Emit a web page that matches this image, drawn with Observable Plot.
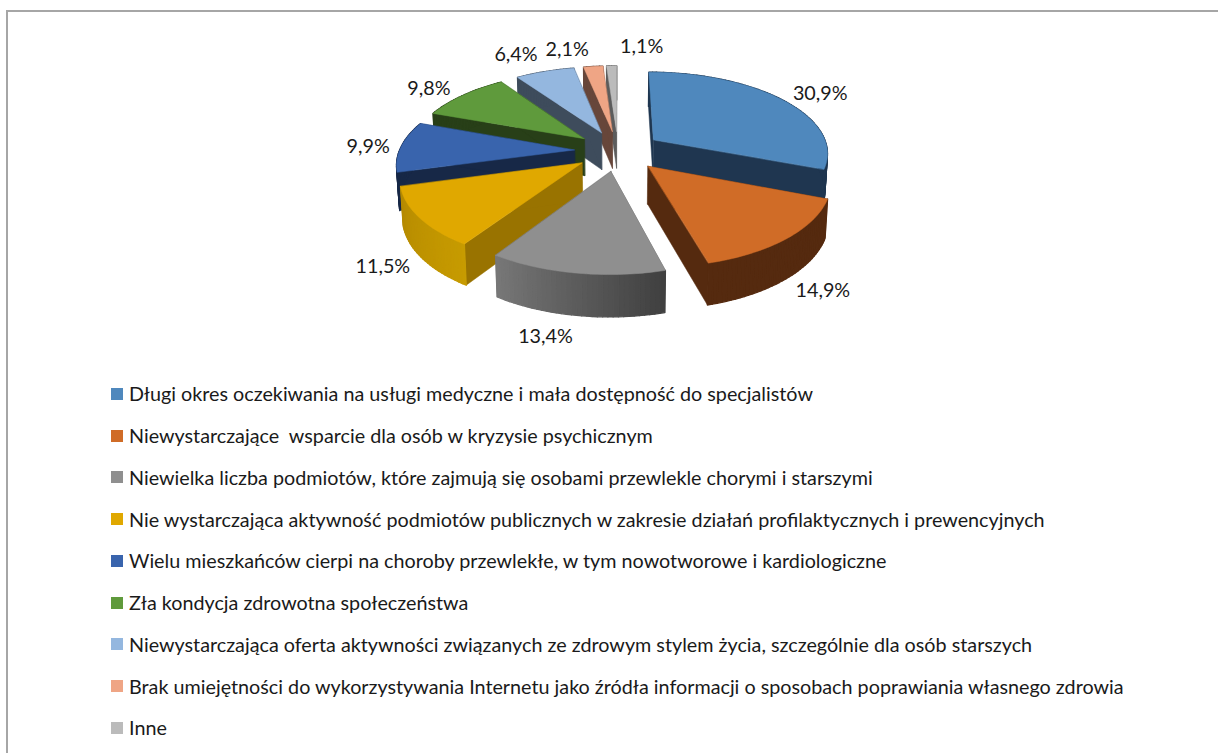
<!DOCTYPE html>
<html lang="pl"><head><meta charset="utf-8">
<script src="https://cdn.jsdelivr.net/npm/d3@7"></script>
<script src="https://cdn.jsdelivr.net/npm/@observablehq/plot@0.6"></script>
<style>
html,body{margin:0;padding:0;background:#fff;overflow:hidden;width:1218px;height:753px}
#frame{position:absolute;left:6px;top:10px;width:1400px;height:900px;border:solid #a6a6a6;border-width:2px 0 0 2px;box-sizing:border-box;pointer-events:none}
#chart{position:absolute;left:0;top:0;width:1218px}
#chart svg{display:block;background:transparent}
#legend{font-family:Lato,"Noto Sans",sans-serif;font-size:19.75px;color:#1a1a1a;letter-spacing:0}
.row{height:41.75px;display:flex;align-items:center;white-space:pre;padding-left:111px}
.sw{width:12px;height:12px;margin-right:6px;flex:none}
</style></head><body>
<div id="frame"></div>
<div id="chart"></div>
<script>
const categories = [
  "Długi okres oczekiwania na usługi medyczne i mała dostępność do specjalistów",
  "Niewystarczające  wsparcie dla osób w kryzysie psychicznym",
  "Niewielka liczba podmiotów, które zajmują się osobami przewlekle chorymi i starszymi",
  "Nie wystarczająca aktywność podmiotów publicznych w zakresie działań profilaktycznych i prewencyjnych",
  "Wielu mieszkańców cierpi na choroby przewlekłe, w tym nowotworowe i kardiologiczne",
  "Zła kondycja zdrowotna społeczeństwa",
  "Niewystarczająca oferta aktywności związanych ze zdrowym stylem życia, szczególnie dla osób starszych",
  "Brak umiejętności do wykorzystywania Internetu jako źródła informacji o sposobach poprawiania własnego zdrowia",
  "Inne"
];
const values = [30.9, 14.9, 13.4, 11.5, 9.9, 9.8, 6.4, 2.1, 1.1];
const topColors  = ["#4f88bd","#d06c27","#8f8f8f","#e0a800","#3964ad","#5f9a3c","#94b7df","#efa585","#bbbbbb"];
const sideColors = ["#1f3650","#552a0f","#5c5c5c","#997300","#172847","#283f18","#3e4c5c","#67463a","#5c5c5c"];
const arcFrom    = ["#1f3650","#552a0f","#3f3f3f","#c79b00","#172847","#283f18","#3e4c5c","#67463a","#5c5c5c"];
const arcTo      = ["#1f3650","#552a0f","#787878","#b58a00","#172847","#283f18","#3e4c5c","#67463a","#5c5c5c"];
const drawOrder  = [8,7,6,5,4,0,1,3,2];
// label offset from the outer edge of each slice
const labelNudgeX = [39,37,-31,-39,-33,-34,-29,-26,30];
const labelNudgeY = [-6,12,21,9,0,-7,-17,-17,-19];

const W = 1218, H = 373;
const cx = 617.5, cy = 150.3, Rx = 175, Ry = 80.7, persp = 0.15, explode = 0.25;
const total = d3.sum(values);
const project = (u, v) => { const w = 1 + persp * v; return [cx + Rx * u / w, cy - Ry * v / w]; };
const drop = ([x, y]) => [cx + (x - cx) * 0.988, y + 38 + (y - 165) * 0.04];

let cum = 0;
const slices = values.map((val, i) => {
  const a0 = cum / total * 2 * Math.PI; cum += val;
  const a1 = cum / total * 2 * Math.PI, mid = (a0 + a1) / 2;
  const ex = explode * Math.sin(mid), ey = explode * Math.cos(mid);
  const pt = a => project(ex + Math.sin(a), ey + Math.cos(a));
  return {i, a0, a1, mid, tip: project(ex, ey), pt};
});

const facePolys = [], wallPolys = [], topPolys = [];
// one ordered list of layers keeps the painter's order; walls get a wider stroke to hide seams
const polys = [];
let pid = 0;
const add = (points, fill, sw) => { pid++; for (const [x, y] of points) polys.push({id: pid, x, y, fill, sw}); };
for (const k of drawOrder) {
  const s = slices[k];
  const n = Math.max(4, Math.ceil((s.a1 - s.a0) * 40));
  const angles = d3.range(n + 1).map(j => s.a0 + (s.a1 - s.a0) * j / n);
  const arc = angles.map(s.pt);
  const side = sideColors[k];
  add([s.tip, arc[0], drop(arc[0]), drop(s.tip)], side, 0.5);
  add([s.tip, arc[n], drop(arc[n]), drop(s.tip)], side, 0.5);
  const mix = d3.interpolateRgb(arcFrom[k], arcTo[k]);
  for (let j = 0; j < n; j++) {
    add([arc[j], arc[j + 1], drop(arc[j + 1]), drop(arc[j])], mix((j + .5) / n), 1.3);
  }
  add([s.tip, ...arc], topColors[k], 0.5);
}

const labels = slices.map(s => {
  const p = s.pt(s.mid);
  const q = Math.cos(s.mid) < 0 ? drop(p) : p;
  return {x: q[0] + labelNudgeX[s.i], y: q[1] + labelNudgeY[s.i],
          text: values[s.i].toFixed(1).replace(".", ",") + "%"};
});

const plot = Plot.plot({
  width: W, height: H, margin: 0,
  x: {domain: [0, W], range: [0, W], axis: null},
  y: {domain: [0, H], range: [0, H], axis: null},
  color: {type: "identity"},
  style: {background: "transparent"},
  marks: [
    Plot.line(polys, {x: "x", y: "y", z: "id", fill: "fill", stroke: "fill", strokeWidth: "sw", curve: "linear-closed"}),
    Plot.text(labels, {x: "x", y: "y", text: "text", fontSize: 19.75, fontFamily: "Lato, 'Noto Sans', sans-serif", fill: "#1a1a1a"})
  ]
});
const chart = document.getElementById("chart");
chart.appendChild(plot);
const legend = document.createElement("div");
legend.id = "legend";
categories.forEach((c, i) => {
  const row = document.createElement("div"); row.className = "row";
  const sw = document.createElement("span"); sw.className = "sw"; sw.style.background = topColors[i];
  const t = document.createElement("span"); t.textContent = c;
  row.append(sw, t); legend.append(row);
});
chart.appendChild(legend);
</script></body></html>
